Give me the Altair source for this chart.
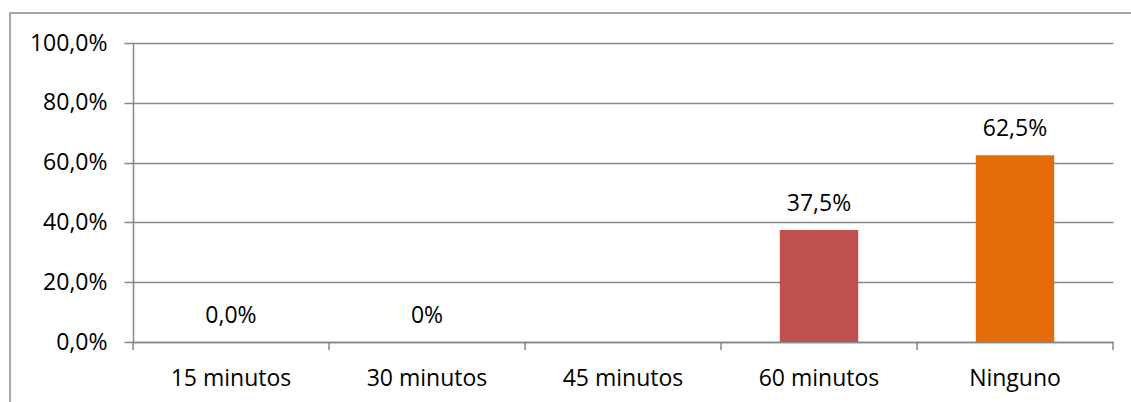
import altair as alt
import pandas as pd

# Share of responses by waiting time
categorias = ["15 minutos", "30 minutos", "45 minutos", "60 minutos", "Ninguno"]
valores = [0.0, 0.0, None, 37.5, 62.5]
etiquetas = ["0,0%", "0%", "", "37,5%", "62,5%"]
paleta = ["#4F81BD", "#4F81BD", "#9BBB59", "#C0504D", "#E36C09"]

df = pd.DataFrame({"categoria": categorias, "valor": valores, "etiqueta": etiquetas})

FONT = "Open Sans"
GRIS = "#878787"
W, H = 980, 299
P_IN, P_OUT = 0.6, 0.3
STEP = W / (len(categorias) - P_IN + 2 * P_OUT)

x_scale = alt.Scale(domain=categorias, paddingInner=P_IN, paddingOuter=P_OUT)
y_scale = alt.Scale(domain=[0, 100], nice=False)

x_axis = alt.Axis(title=None, labelAngle=0, ticks=False, domain=True,
                  domainColor=GRIS, domainWidth=1.5,
                  labelFont=FONT, labelFontSize=23, labelColor="#000000",
                  labelPadding=25)
y_axis = alt.Axis(title=None, values=[0, 20, 40, 60, 80, 100],
                  labelExpr="replace(format(datum.value, '.1f'), '.', ',') + '%'",
                  grid=True, gridColor=GRIS, gridWidth=1.5,
                  domain=True, domainColor=GRIS, domainWidth=1.5,
                  ticks=True, tickColor=GRIS, tickSize=9, tickWidth=1.5,
                  labelFont=FONT, labelFontSize=23, labelColor="#000000",
                  labelPadding=17)

base = alt.Chart(df)

barras = base.mark_bar().encode(
    x=alt.X("categoria:N", scale=x_scale, sort=categorias, axis=x_axis),
    y=alt.Y("valor:Q", scale=y_scale, axis=y_axis),
    color=alt.Color("categoria:N", scale=alt.Scale(domain=categorias, range=paleta),
                    legend=None),
)

textos = base.mark_text(font=FONT, fontSize=23, color="#000000",
                        baseline="alphabetic", dy=-19).encode(
    x=alt.X("categoria:N", scale=x_scale, sort=categorias, axis=x_axis),
    y=alt.Y("y0:Q", scale=y_scale, axis=y_axis),
    text="etiqueta:N",
).transform_calculate(y0="datum.valor == null ? 0 : datum.valor")

# Separator ticks between categories on the x axis
separadores = base.mark_rule(color=GRIS, strokeWidth=1.5,
                             xOffset=-P_OUT * STEP).encode(
    x=alt.X("categoria:N", scale=x_scale, sort=categorias, axis=x_axis,
            bandPosition=0),
    y=alt.value(H), y2=alt.value(H + 8),
)

tick_final = alt.Chart(alt.Data(values=[{}])).mark_rule(
    color=GRIS, strokeWidth=1.5
).encode(x=alt.value(W), y=alt.value(H), y2=alt.value(H + 8))

marco = alt.Chart(alt.Data(values=[{}])).mark_rect(
    fill=None, stroke="#8c8c8c", strokeWidth=1.5
).encode(x=alt.value(-123), x2=alt.value(W + 30), y=alt.value(-30), y2=alt.value(H + 80))

chart = alt.layer(marco, barras, textos, separadores, tick_final).properties(
    width=W, height=H,
    autosize=alt.AutoSizeParams(type="none"),
    padding={"left": 133, "top": 43, "right": 18, "bottom": 60},
    background="white",
).configure_view(stroke=None)

chart.save("out.html", embed_options={"renderer": "svg", "actions": False})
